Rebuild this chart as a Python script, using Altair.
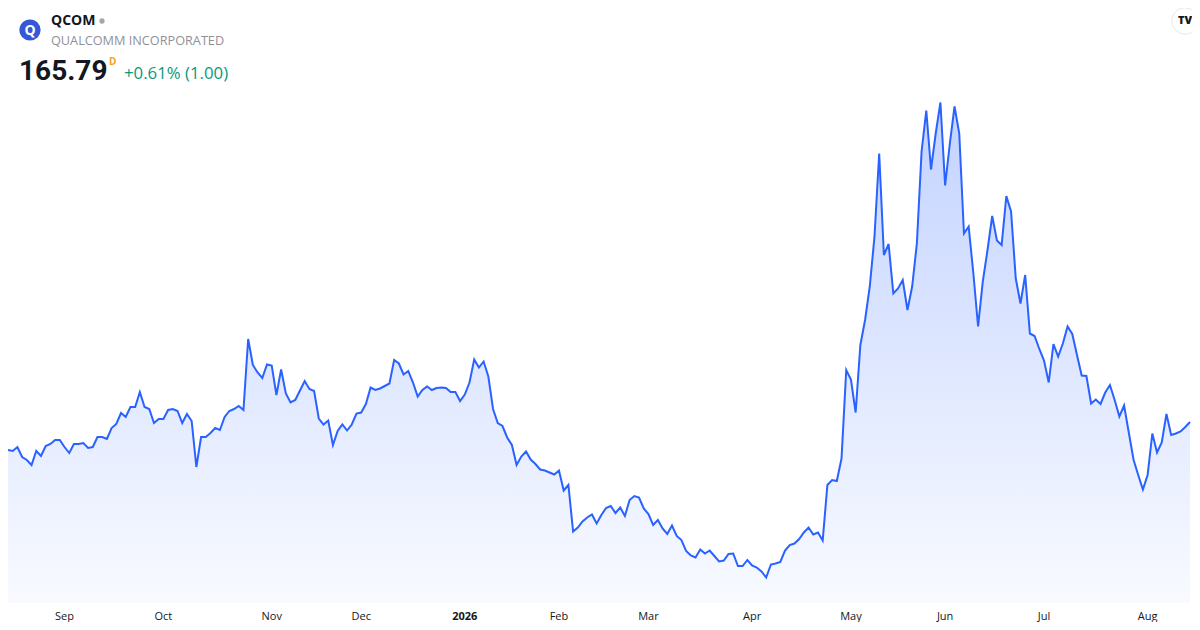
import altair as alt
import pandas as pd

# Daily closes (trading-day index 0..251)
close = [
    160.2, 160.0, 160.8, 158.8, 158.2, 157.2, 160.0, 159.0, 161.0, 161.4,
    162.2, 162.2, 160.8, 159.6, 161.4, 161.4, 161.6, 160.6, 160.8, 162.8,
    162.8, 162.4, 164.6, 165.4, 167.6, 166.8, 168.8, 168.8, 171.8, 168.8,
    168.4, 165.6, 166.4, 166.4, 168.2, 168.4, 168.0, 165.6, 167.4, 166.0,
    156.8, 162.8, 162.8, 163.6, 164.6, 164.2, 166.8, 168.0, 168.4, 169.0,
    168.2, 182.4, 177.2, 175.7, 174.6, 177.3, 177.1, 171.2, 176.3, 171.5,
    169.7, 170.2, 172.1, 174.0, 172.4, 172.0, 166.5, 165.3, 166.1, 161.2,
    164.0, 165.3, 164.1, 165.3, 167.5, 167.7, 169.4, 172.7, 172.2, 172.5,
    173.0, 173.5, 178.2, 177.5, 175.3, 176.0, 173.7, 170.9, 172.2, 172.9,
    172.2, 172.6, 172.7, 172.6, 171.8, 171.8, 170.0, 171.3, 173.7, 178.3,
    176.7, 177.9, 174.9, 168.4, 165.6, 165.0, 162.7, 161.2, 157.2, 158.9,
    159.9, 158.3, 157.4, 156.3, 156.1, 155.7, 155.3, 156.1, 152.1, 153.2,
    143.9, 144.7, 145.9, 146.7, 147.3, 145.5, 147.2, 148.6, 149.0, 147.6,
    148.7, 147.0, 150.2, 151.0, 150.7, 148.5, 147.4, 145.2, 146.2, 144.5,
    143.4, 145.1, 143.0, 142.2, 140.0, 139.1, 138.7, 140.3, 139.5, 140.1,
    139.0, 137.9, 138.1, 139.4, 139.5, 137.0, 137.0, 138.2, 137.1, 136.7,
    135.9, 134.7, 137.3, 137.5, 137.8, 140.1, 141.2, 141.5, 142.4, 143.7,
    144.7, 143.3, 143.7, 142.1, 153.2, 154.2, 154.0, 158.5, 176.2, 174.3,
    167.7, 181.2, 186.2, 192.9, 202.9, 219.5, 199.2, 201.4, 191.5, 192.5,
    194.2, 188.2, 192.9, 201.5, 219.9, 228.1, 216.3, 223.5, 229.7, 213.1,
    221.5, 228.9, 223.5, 203.5, 204.9, 195.5, 184.9, 193.9, 200.2, 207.0,
    202.1, 201.2, 211.0, 207.9, 194.5, 189.5, 195.2, 183.5, 183.0, 180.4,
    178.1, 173.7, 181.4, 178.9, 181.5, 184.9, 183.4, 179.2, 175.1, 175.0,
    169.5, 170.3, 169.4, 171.7, 173.2, 170.2, 166.9, 169.1, 163.7, 158.3,
    155.2, 152.3, 155.2, 163.5, 159.7, 161.7, 167.4, 163.2, 163.5, 163.9,
    164.79, 165.79,
]

# Month tick labels at the first trading day of each month
month_labels = ["Sep", "Oct", "Nov", "Dec", "2026", "Feb", "Mar", "Apr", "May", "Jun", "Jul", "Aug"]
month_index = [12, 33, 56, 75, 97, 117, 136, 158, 179, 199, 220, 242]
month_bold = [False, False, False, False, True, False, False, False, False, False, False, False]

ticker = "QCOM"
company = "QUALCOMM INCORPORATED"
last_price = "165.79"
change_text = "+0.61% (1.00)"

# visible price window of the pane
y_lo, y_hi = 129.6, 248.6

W, H = 1182, 595
FONT = "Open Sans"

df = pd.DataFrame({"i": list(range(len(close))), "close": close})
mdf = pd.DataFrame({"i": month_index, "label": month_labels, "bold": month_bold})

xscale = alt.Scale(domain=[0, len(close) - 1], nice=False, zero=False)
yscale = alt.Scale(domain=[y_lo, y_hi], nice=False, zero=False)

x = alt.X("i:Q", scale=xscale, axis=None)
y = alt.Y("close:Q", scale=yscale, axis=None)

grad = alt.Gradient(
    gradient="linear",
    stops=[
        alt.GradientStop(color="rgba(41,98,255,0.28)", offset=0),
        alt.GradientStop(color="rgba(41,98,255,0.03)", offset=1),
    ],
    x1=0, x2=0, y1=0, y2=1,
)

area = alt.Chart(df).mark_area(color=grad, interpolate="linear", clip=True).encode(
    x=x, y=y, y2=alt.datum(y_lo)
)
line = alt.Chart(df).mark_line(color="#2962FF", strokeWidth=2, interpolate="linear").encode(
    x=x, y=y
)

mx = alt.X("i:Q", scale=xscale, axis=None)
months_normal = alt.Chart(mdf).transform_filter("!datum.bold").mark_text(
    font=FONT, fontSize=11, color="#131722", baseline="middle", align="center"
).encode(x=mx, y=alt.value(609), text="label:N")
months_bold = alt.Chart(mdf).transform_filter("datum.bold").mark_text(
    font=FONT, fontSize=11, fontWeight="bold", color="#131722", baseline="middle", align="center"
).encode(x=mx, y=alt.value(609), text="label:N")

one = alt.Data(values=[{"a": 1}])

logo = alt.Chart(one).mark_circle(size=450, color="#3658d8", opacity=1).encode(
    x=alt.value(22), y=alt.value(22)
)
logo_q = alt.Chart(one).mark_text(
    text="Q", font=FONT, fontSize=14, fontWeight="bold", color="white", baseline="middle", align="center"
).encode(x=alt.value(22), y=alt.value(22.5))
t_ticker = alt.Chart(one).mark_text(
    text=ticker, font=FONT, fontSize=14, fontWeight="bold", color="#131722", baseline="middle", align="left"
).encode(x=alt.value(43), y=alt.value(13))
dot = alt.Chart(one).mark_circle(size=28, color="#a3a6af", opacity=1).encode(
    x=alt.value(94), y=alt.value(13)
)
t_company = alt.Chart(one).mark_text(
    text=company, font=FONT, fontSize=12.7, color="#8f9199", baseline="middle", align="left"
).encode(x=alt.value(43), y=alt.value(32.5))
t_price = alt.Chart(one).mark_text(
    text=last_price, font="Roboto", fontSize=28, fontWeight="bold", color="#131722", baseline="middle", align="left"
).encode(x=alt.value(11), y=alt.value(64))
t_d = alt.Chart(one).mark_text(
    text="D", font=FONT, fontSize=10, fontWeight="bold", color="#f7a21b", baseline="middle", align="left"
).encode(x=alt.value(101), y=alt.value(54))
t_change = alt.Chart(one).mark_text(
    text=change_text, font=FONT, fontSize=16.8, color="#089981", baseline="middle", align="left"
).encode(x=alt.value(116), y=alt.value(66))
tv_bg = alt.Chart(one).mark_circle(size=700, color="white", opacity=1, stroke="#e6e8ee", strokeWidth=1).encode(
    x=alt.value(1177), y=alt.value(13)
)
tv_text = alt.Chart(one).mark_text(
    text="TV", font=FONT, fontSize=11, fontWeight=900, color="#131722", baseline="middle", align="center"
).encode(x=alt.value(1177), y=alt.value(13))

chart = alt.layer(
    area, line, months_normal, months_bold,
    logo, logo_q, t_ticker, dot, t_company, t_price, t_d, t_change, tv_bg, tv_text,
).properties(
    width=W,
    height=H,
    autosize=alt.AutoSizeParams(type="none"),
    padding={"left": 0, "top": 0, "right": 2, "bottom": 19},
    background="white",
).configure_view(strokeWidth=0)

chart.save("out.html", embed_options={"renderer": "svg", "actions": False})
